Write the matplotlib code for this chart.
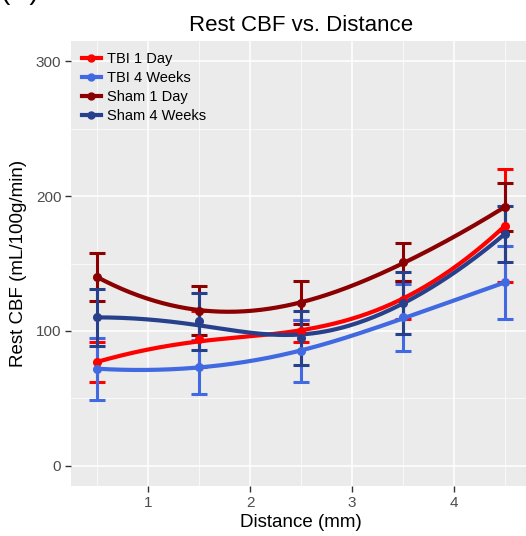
import numpy as np
import matplotlib.pyplot as plt
from matplotlib.lines import Line2D

plt.rcParams['font.family'] = ['Liberation Sans', 'DejaVu Sans']

# data
distance = [0.5, 1.5, 2.5, 3.5, 4.5]
groups = ['TBI 1 Day', 'TBI 4 Weeks', 'Sham 1 Day', 'Sham 4 Weeks']
cbf_mean = {
    'TBI 1 Day':    [77, 94, 100, 123, 178],
    'TBI 4 Weeks':  [72, 73, 85, 110, 136],
    'Sham 1 Day':   [140, 115, 121, 151, 192],
    'Sham 4 Weeks': [110, 107, 95, 121, 172],
}
cbf_err = {
    'TBI 1 Day':    [15, 21, 8, 14, 42],
    'TBI 4 Weeks':  [23, 20, 23, 25, 27],
    'Sham 1 Day':   [18, 18, 16, 14, 18],
    'Sham 4 Weeks': [21, 21, 20, 23, 21],
}
colors = {
    'TBI 1 Day': '#FF0000',
    'TBI 4 Weeks': '#4169E1',
    'Sham 1 Day': '#8B0000',
    'Sham 4 Weeks': '#27408B',
}
x_ticks = [1, 2, 3, 4]
y_ticks = [0, 100, 200, 300]


def smooth(x, y, grid, bw=0.8):
    # local quadratic fit (loess-like smoother, as geom_smooth draws)
    x = np.asarray(x, float)
    y = np.asarray(y, float)
    out = []
    for g in grid:
        w = np.exp(-0.5 * ((x - g) / bw) ** 2)
        A = np.vstack([np.ones_like(x), x - g, (x - g) ** 2]).T
        W = np.diag(w)
        beta = np.linalg.solve(A.T @ W @ A, A.T @ W @ y)
        out.append(beta[0])
    return np.array(out)


fig = plt.figure(figsize=(5.26, 5.36), dpi=100)
ax = fig.add_axes([71 / 526, 50 / 536, 460 / 526, 445 / 536])
ax.set_facecolor('#EBEBEB')

grid = np.linspace(distance[0], distance[-1], 200)
for g in groups:
    c = colors[g]
    ax.errorbar(distance, cbf_mean[g], yerr=cbf_err[g], fmt='none', ecolor=c,
                elinewidth=2.2, capsize=6, capthick=2.2, zorder=3)
for g in groups:
    c = colors[g]
    ax.plot(grid, smooth(distance, cbf_mean[g], grid), color=c, lw=3, zorder=4,
            solid_capstyle='round')
    ax.plot(distance, cbf_mean[g], 'o', color=c, ms=5.5, zorder=5)

ax.set_xlim(0.245, 4.755)
ax.set_ylim(-15, 315)
ax.set_xticks(x_ticks)
ax.set_yticks(y_ticks)
ax.set_xticks([0.5, 1.5, 2.5, 3.5, 4.5], minor=True)
ax.set_yticks([50, 150, 250], minor=True)
ax.grid(True, which='major', color='white', lw=1.1)
ax.grid(True, which='minor', color='white', lw=0.5)
ax.set_axisbelow(True)
for s in ax.spines.values():
    s.set_visible(False)
ax.tick_params(which='major', length=4, width=1, color='#333333',
               labelsize=11, labelcolor='#4D4D4D', pad=3)
ax.tick_params(which='minor', length=0)

ax.set_title('Rest CBF vs. Distance', fontsize=16, pad=7)
ax.set_xlabel('Distance (mm)', fontsize=13.5, labelpad=3)
ax.set_ylabel('Rest CBF (mL/100g/min)', fontsize=13.5, labelpad=6)

handles = [Line2D([], [], color=colors[g], lw=3, marker='o', ms=5) for g in groups]
leg = ax.legend(handles, groups, loc='upper left', fontsize=10.5,
                frameon=False, handlelength=1.3, handletextpad=0.4,
                labelspacing=0.35, borderpad=0.25, borderaxespad=0.5,
                bbox_to_anchor=(0.0, 1.0))

fig.text(0.0, 1.0 + 1 / 536, '(C)', fontsize=20, va='baseline', ha='left')

fig.savefig('out.png', dpi=100)
